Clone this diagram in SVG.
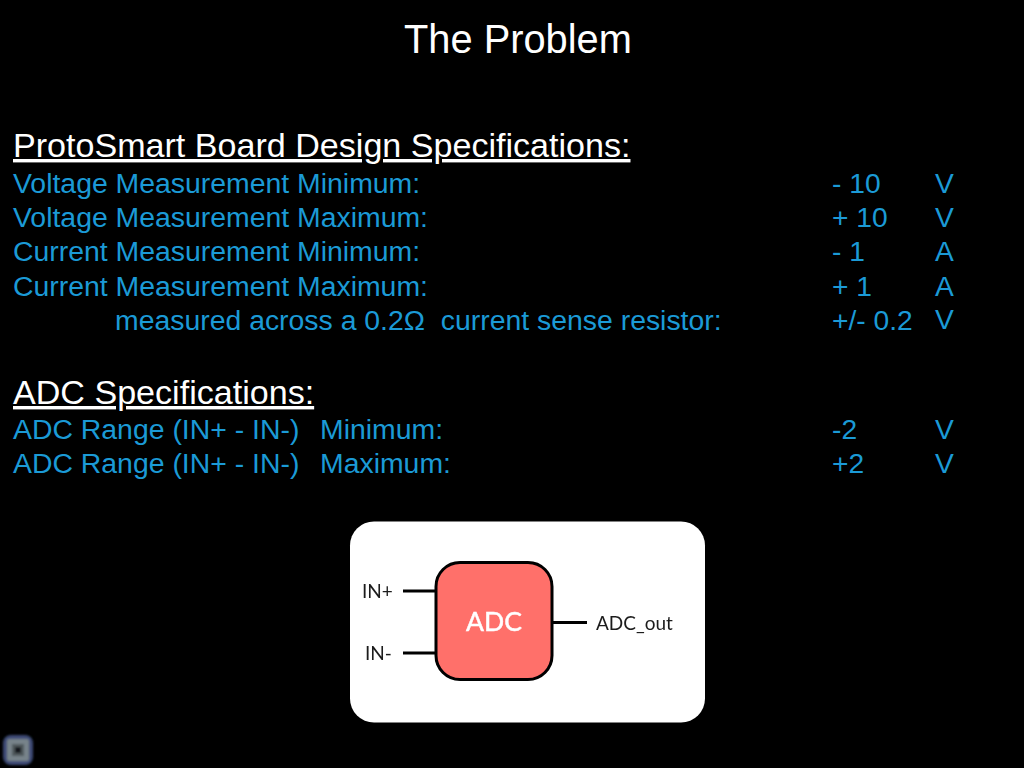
<svg xmlns="http://www.w3.org/2000/svg" width="1024" height="768" viewBox="0 0 1024 768">
<style>
text{font-family:"Liberation Sans",Arial,sans-serif}
.t{fill:#fff;font-size:39.8px}
.h{fill:#fff;font-size:34.1px;text-decoration:underline}
.b{fill:#1b9ad6;font-size:28.4px}
.v{fill:#1b9ad6;font-size:28.2px}
.d{fill:#1c1c1c;font-family:"Lato","Liberation Sans",sans-serif;font-size:19px}
.w{stroke:#000;stroke-width:3;fill:none}
</style>
<defs>
<filter id="soft" x="-5%" y="-5%" width="110%" height="110%"><feGaussianBlur stdDeviation="0.6"/></filter>
<filter id="softer" x="-20%" y="-20%" width="140%" height="140%"><feGaussianBlur stdDeviation="1.2"/></filter>
</defs>
<rect width="1024" height="768" fill="#000"/>
<text class="t" x="404" y="52.500">The Problem</text>
<text class="h" x="13" y="157">ProtoSmart Board Design Specifications:</text>
<text class="b" x="13" y="193">Voltage Measurement Minimum:</text><text class="v" x="832" y="193">- 10</text><text class="v" x="935" y="193">V</text>
<text class="b" x="13" y="227">Voltage Measurement Maximum:</text><text class="v" x="832" y="227">+ 10</text><text class="v" x="935" y="227">V</text>
<text class="b" x="13" y="261">Current Measurement Minimum:</text><text class="v" x="832" y="261">- 1</text><text class="v" x="935" y="261">A</text>
<text class="b" x="13" y="295.500">Current Measurement Maximum:</text><text class="v" x="832" y="295.500">+ 1</text><text class="v" x="935" y="295.500">A</text>
<text class="b" x="115" y="329.500" xml:space="preserve">measured across a 0.2Ω  current sense resistor:</text><text class="v" x="832" y="329.500">+/- 0.2</text><text class="v" x="935" y="329">V</text>
<text class="h" x="13" y="404">ADC Specifications:</text>
<text class="b" x="13" y="439">ADC Range (IN+ - IN-)</text><text class="b" x="320" y="439">Minimum:</text><text class="v" x="832" y="439">-2</text><text class="v" x="935" y="439">V</text>
<text class="b" x="13" y="472.500">ADC Range (IN+ - IN-)</text><text class="b" x="320" y="472.500">Maximum:</text><text class="v" x="832" y="472.500">+2</text><text class="v" x="935" y="472.500">V</text>
<g filter="url(#soft)">
<rect x="350" y="521.5" width="355" height="201" rx="24" fill="#fff"/>
<g id="connectors">
<path class="w" d="M403 591H436M403 653H436M552 622.500H587"/>
</g>
<g id="adc">
<rect x="436" y="562.500" width="116" height="117" rx="24" fill="#ff6f6b" stroke="#000" stroke-width="3"/>
<text x="494" y="631" text-anchor="middle" fill="#fff" stroke="#fff" stroke-width="0.5" font-size="26.500" style="font-family:Lato,'Liberation Sans',sans-serif">ADC</text>
</g>
<g id="in-plus"><text class="d" x="362" y="598">IN+</text></g>
<g id="in-minus"><text class="d" x="365" y="660">IN-</text></g>
<g id="adc-out"><text class="d" x="596" y="630">ADC_out</text></g>
</g>
<g id="icon" filter="url(#softer)">
<rect x="3" y="735" width="30" height="30" rx="8" fill="#3c4a75"/>
<rect x="7" y="739" width="22" height="22" rx="2" fill="#77838a"/>
<rect x="12" y="744" width="12" height="12" fill="#4f585c"/>
<rect x="15" y="747" width="6" height="6" fill="#15181a"/>
</g>
</svg>
